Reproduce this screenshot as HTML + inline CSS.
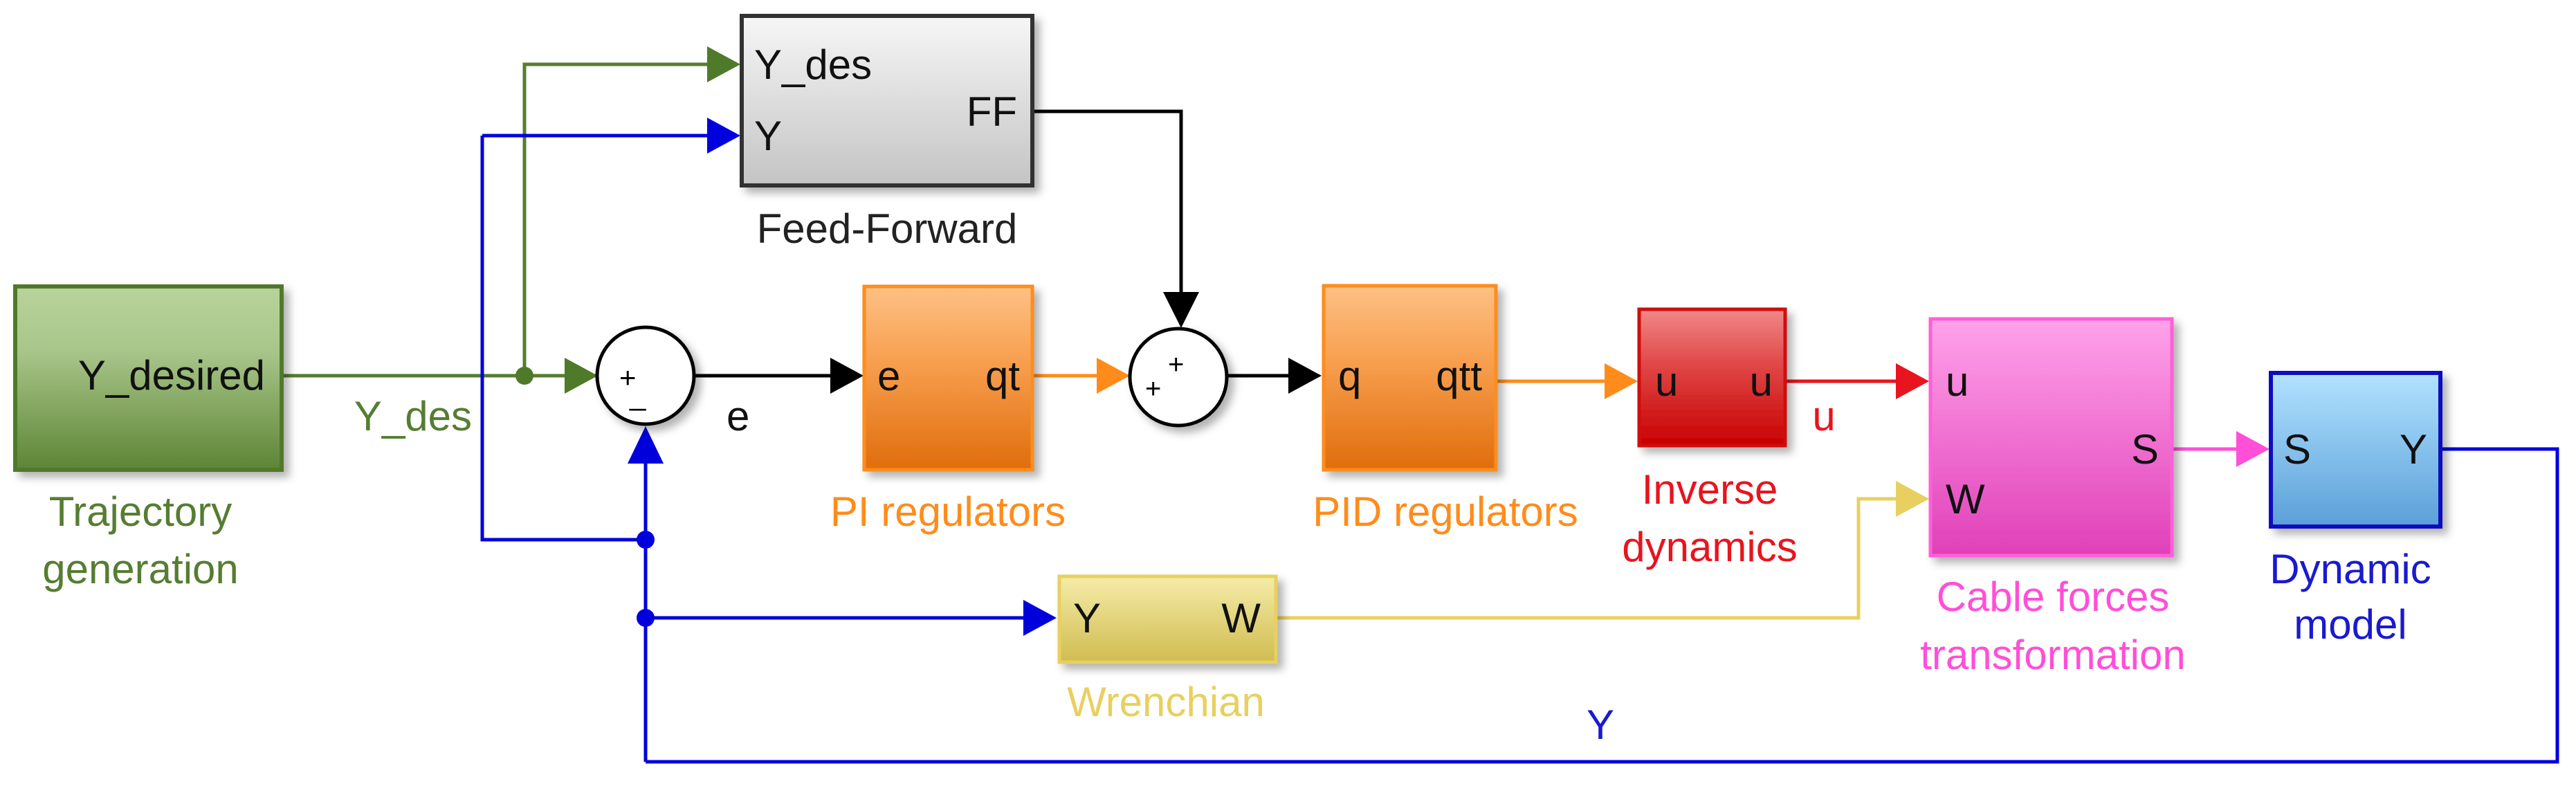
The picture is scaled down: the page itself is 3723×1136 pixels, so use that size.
<!DOCTYPE html>
<html><head><meta charset="utf-8"><style>html,body{margin:0;padding:0;background:#fff}svg{display:block}text{font-family:"Liberation Sans",Arial,sans-serif}</style></head>
<body>
<svg width="3723" height="1136" viewBox="0 0 3723 1136" xmlns="http://www.w3.org/2000/svg">
<defs>
<linearGradient id="gG" x1="0" y1="0" x2="0" y2="1"><stop offset="0" stop-color="#b8d39c"/><stop offset="0.35" stop-color="#a8c68a"/><stop offset="1" stop-color="#5d8535"/></linearGradient>
<linearGradient id="gF" x1="0" y1="0" x2="0" y2="1"><stop offset="0" stop-color="#f6f6f6"/><stop offset="1" stop-color="#c4c4c4"/></linearGradient>
<linearGradient id="gO" x1="0" y1="0" x2="0" y2="1"><stop offset="0" stop-color="#fdc084"/><stop offset="0.4" stop-color="#f8a050"/><stop offset="1" stop-color="#e06d0c"/></linearGradient>
<linearGradient id="gR" x1="0" y1="0" x2="0" y2="1"><stop offset="0" stop-color="#f28888"/><stop offset="0.4" stop-color="#e04848"/><stop offset="1" stop-color="#c80000"/></linearGradient>
<linearGradient id="gP" x1="0" y1="0" x2="0" y2="1"><stop offset="0" stop-color="#ffa2ea"/><stop offset="1" stop-color="#e040b8"/></linearGradient>
<linearGradient id="gB" x1="0" y1="0" x2="0" y2="1"><stop offset="0" stop-color="#b2e2ff"/><stop offset="1" stop-color="#5aa0d8"/></linearGradient>
<linearGradient id="gY" x1="0" y1="0" x2="0" y2="1"><stop offset="0" stop-color="#f5eca8"/><stop offset="1" stop-color="#d0bc50"/></linearGradient>
<filter id="sh" x="-10%" y="-10%" width="130%" height="130%"><feDropShadow dx="8" dy="8" stdDeviation="6" flood-color="#000" flood-opacity="0.3"/></filter>
</defs>

<!-- lines -->
<g fill="none" stroke-width="5">
<polyline points="407,543 862,543" stroke="#567d32"/>
<polyline points="758,543 758,93 1030,93" stroke="#567d32"/>
<polyline points="697,196 1030,196" stroke="#0000dd"/>
<polyline points="697,196 697,780 933,780" stroke="#0000dd"/>
<polyline points="933,1101 933,660" stroke="#0000dd"/>
<polyline points="933,893 1485,893" stroke="#0000dd"/>
<polyline points="3528,649 3696,649 3696,1101 933,1101" stroke="#0000dd"/>
<polyline points="1003,543 1205,543" stroke="#000"/>
<polyline points="1493,161 1707,161 1707,430" stroke="#000"/>
<polyline points="1773,543 1865,543" stroke="#000"/>
<polyline points="1493,543 1590,543" stroke="#ff8c1a"/>
<polyline points="2163,551 2322,551" stroke="#ff8c1a"/>
<polyline points="2581,551 2742,551" stroke="#e8141e"/>
<polyline points="1845,893 2686,893 2686,721 2742,721" stroke="#e8d060"/>
<polyline points="3140,649 3235,649" stroke="#ff4fd8"/>
</g>
<!-- arrowheads -->
<polygon points="1070,93 1022,67 1022,119" fill="#4f7a2a"/>
<polygon points="1070,196 1022,170 1022,222" fill="#0000dd"/>
<polygon points="864,543 816,517 816,569" fill="#4f7a2a"/>
<polygon points="933,616 907,670 959,670" fill="#0000dd"/>
<polygon points="1527,893 1479,867 1479,919" fill="#0000dd"/>
<polygon points="1248,543 1200,517 1200,569" fill="#000"/>
<polygon points="1633,543 1585,517 1585,569" fill="#ff8c1a"/>
<polygon points="1707,474 1681,422 1733,422" fill="#000"/>
<polygon points="1910,543 1862,517 1862,569" fill="#000"/>
<polygon points="2367,551 2319,525 2319,577" fill="#ff8c1a"/>
<polygon points="2788,551 2740,525 2740,577" fill="#e8141e"/>
<polygon points="2788,721 2740,695 2740,747" fill="#e8d060"/>
<polygon points="3280,649 3232,623 3232,675" fill="#ff4fd8"/>
<!-- dots -->
<circle cx="758" cy="543" r="13" fill="#4f7a2a"/>
<circle cx="933" cy="780" r="13" fill="#0000dd"/>
<circle cx="933" cy="893" r="13" fill="#0000dd"/>

<!-- blocks -->
<rect x="22" y="414" width="385" height="265" fill="url(#gG)" stroke="#4f7a2a" stroke-width="6" filter="url(#sh)"/>
<rect x="1072" y="23" width="420" height="245" fill="url(#gF)" stroke="#333" stroke-width="6" filter="url(#sh)"/>
<rect x="1249" y="414" width="243" height="265" fill="url(#gO)" stroke="#ff8c1a" stroke-width="5" filter="url(#sh)"/>
<rect x="1913" y="413" width="249" height="266" fill="url(#gO)" stroke="#ff8c1a" stroke-width="5" filter="url(#sh)"/>
<rect x="2369" y="447" width="211" height="197" fill="url(#gR)" stroke="#d01010" stroke-width="5" filter="url(#sh)"/>
<rect x="2790" y="461" width="349" height="342" fill="url(#gP)" stroke="#ff5fd8" stroke-width="5" filter="url(#sh)"/>
<rect x="3282" y="539" width="245" height="222" fill="url(#gB)" stroke="#1010c0" stroke-width="6" filter="url(#sh)"/>
<rect x="1531" y="833" width="313" height="124" fill="url(#gY)" stroke="#e8d060" stroke-width="5" filter="url(#sh)"/>
<circle cx="933" cy="543" r="70" fill="#fff" stroke="#000" stroke-width="5" filter="url(#sh)"/>
<circle cx="1703" cy="545" r="70" fill="#fff" stroke="#000" stroke-width="5" filter="url(#sh)"/>
<text x="895" y="560" font-size="42" fill="#000">+</text>
<text x="910" y="585" font-size="42" fill="#000">_</text>
<text x="1655" y="575" font-size="40" fill="#000">+</text>
<text x="1688" y="540" font-size="40" fill="#000">+</text>

<!-- port texts -->
<g font-size="60" fill="#111">
<text x="383" y="563" text-anchor="end">Y_desired</text>
<text x="1090" y="114">Y_des</text>
<text x="1090" y="217">Y</text>
<text x="1470" y="182" text-anchor="end">FF</text>
<text x="1268" y="564">e</text>
<text x="1474" y="564" text-anchor="end">qt</text>
<text x="1934" y="564">q</text>
<text x="2142" y="564" text-anchor="end">qtt</text>
<text x="2392" y="572">u</text>
<text x="2562" y="572" text-anchor="end">u</text>
<text x="2812" y="572">u</text>
<text x="2812" y="742">W</text>
<text x="3120" y="670" text-anchor="end">S</text>
<text x="3300" y="670">S</text>
<text x="3508" y="670" text-anchor="end">Y</text>
<text x="1551" y="914">Y</text>
<text x="1822" y="914" text-anchor="end">W</text>
<text x="1050" y="622">e</text>
</g>
<!-- labels -->
<g font-size="60" text-anchor="middle">
<text x="203" y="760" fill="#567d32">Trajectory</text>
<text x="203" y="843" fill="#567d32">generation</text>
<text x="597" y="622" fill="#567d32">Y_des</text>
<text x="1282" y="351" fill="#222">Feed-Forward</text>
<text x="1370" y="760" fill="#ff8c1a">PI regulators</text>
<text x="2089" y="760" fill="#ff8c1a">PID regulators</text>
<text x="2471" y="728" fill="#e8141e">Inverse</text>
<text x="2471" y="811" fill="#e8141e">dynamics</text>
<text x="2636" y="622" fill="#e8141e">u</text>
<text x="2967" y="883" fill="#ff4fd8">Cable forces</text>
<text x="2967" y="967" fill="#ff4fd8">transformation</text>
<text x="3397" y="843" fill="#1a1ad0">Dynamic</text>
<text x="3397" y="923" fill="#1a1ad0">model</text>
<text x="1685" y="1035" fill="#e8d060">Wrenchian</text>
<text x="2313" y="1068" fill="#1a1ad0">Y</text>
</g>
</svg>
</body></html>
